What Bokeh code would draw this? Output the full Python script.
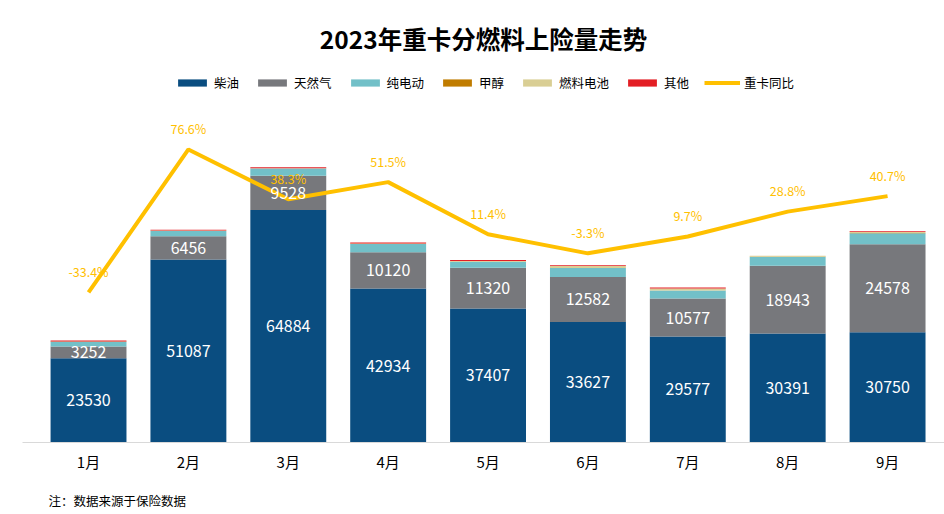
from bokeh.plotting import figure
from bokeh.models import Range1d, FixedTicker, Legend, LegendItem, LinearAxis, ColumnDataSource
from bokeh.embed import file_html
from bokeh.resources import INLINE
from bokeh.core.properties import value

# ---- data ----
months = ["1月", "2月", "3月", "4月", "5月", "6月", "7月", "8月", "9月"]
diesel = [23530, 51087, 64884, 42934, 37407, 33627, 29577, 30391, 30750]
gas = [3252, 6456, 9528, 10120, 11320, 12582, 10577, 18943, 24578]
electric = [1350, 1450, 2000, 2300, 1700, 2450, 2250, 2450, 3050]
methanol = [20, 30, 40, 120, 60, 40, 30, 10, 40]
fuelcell = [60, 100, 80, 60, 150, 520, 560, 300, 280]
other = [220, 250, 250, 250, 250, 220, 260, 20, 250]
yoy = [-33.4, 76.6, 38.3, 51.5, 11.4, -3.3, 9.7, 28.8, 40.7]

series_names = ["柴油", "天然气", "纯电动", "甲醇", "燃料电池", "其他"]
series_keys = ["diesel", "gas", "electric", "methanol", "fuelcell", "other"]
colors = ["#0A4D80", "#77787C", "#72C0C8", "#C07C00", "#D9CE94", "#E31E24"]
line_color = "#FFC000"
FONT = "Noto Sans CJK SC"
note_text = "注：数据来源于保险数据"

x = list(range(len(months)))

p = figure(width=944, height=514, output_backend="svg", toolbar_location=None,
           x_range=Range1d(-0.661, 8.57), y_range=Range1d(0, 106020),
           min_border_left=22, min_border_right=0, min_border_top=62, min_border_bottom=72)
p.extra_y_ranges = {"pct": Range1d(-148.8, 143.5)}

src = ColumnDataSource(dict(x=x, diesel=diesel, gas=gas, electric=electric,
                            methanol=methanol, fuelcell=fuelcell, other=other))
bars = p.vbar_stack(series_keys, x="x", width=0.76, fill_color=colors,
                    line_color=None, source=src)

ln = p.line(x, yoy, y_range_name="pct", line_color=line_color, line_width=4)

# value labels on bars
d_mid = [d / 2 for d in diesel]
g_mid = [d + g / 2 for d, g in zip(diesel, gas)]
p.text(x=x, y=d_mid, text=[str(v) for v in diesel], text_color="white",
       text_font=value(FONT), text_font_size="16px", text_align="center",
       text_baseline="middle")
p.text(x=x, y=g_mid, text=[str(v) for v in gas], text_color="white",
       text_font=value(FONT), text_font_size="16px", text_align="center",
       text_baseline="middle")

# percentage labels
p.text(x=x, y=yoy, text=[f"{v}%" for v in yoy], y_range_name="pct",
       text_color=line_color, text_font=value(FONT), text_font_size="12.5px",
       text_align="center", text_baseline="middle", y_offset=-21)

# axes
p.xaxis.ticker = FixedTicker(ticks=x)
p.xaxis.major_label_overrides = {i: m for i, m in enumerate(months)}
p.xaxis.major_tick_line_color = None
p.xaxis.minor_tick_line_color = None
p.xaxis.axis_line_color = "#D9D9D9"
p.xaxis.major_label_text_font = FONT
p.xaxis.major_label_text_font_size = "15px"
p.xaxis.major_label_text_color = "#000000"
p.xaxis.major_label_standoff = 2
p.yaxis.visible = False
p.xgrid.visible = False
p.ygrid.visible = False
p.outline_line_color = None

# source note, drawn as a second (line-less) bottom axis with one label
note_pos = 0.288
note_axis = LinearAxis(ticker=FixedTicker(ticks=[note_pos]),
                       major_label_overrides={note_pos: note_text},
                       axis_line_color=None, major_tick_line_color=None,
                       minor_tick_line_color=None, major_tick_out=0,
                       major_tick_in=0, minor_tick_out=0, minor_tick_in=0,
                       major_label_standoff=16,
                       major_label_text_font=FONT,
                       major_label_text_font_size="12.5px",
                       major_label_text_color="#000000")
p.add_layout(note_axis, "below")

# title
p.title.text = "2023年重卡分燃料上险量走势"
p.title.align = "center"
p.title.text_font = FONT
p.title.text_font_size = "24.5px"
p.title.text_font_style = "bold"
p.title.text_color = "#000000"
p.title.standoff = 13

# legend
items = [LegendItem(label=n, renderers=[r]) for n, r in zip(series_names, bars)]
items.append(LegendItem(label="重卡同比", renderers=[ln]))
legend = Legend(items=items, orientation="horizontal", location=(152, 350),
                glyph_width=36, glyph_height=9, label_standoff=4, spacing=15,
                padding=0, margin=0, border_line_color=None,
                background_fill_alpha=0, label_text_font=FONT,
                label_text_font_size="12.5px", label_height=14,
                label_text_color="#000000")
p.add_layout(legend, "center")

open("out.html", "w").write(file_html(p, INLINE))
